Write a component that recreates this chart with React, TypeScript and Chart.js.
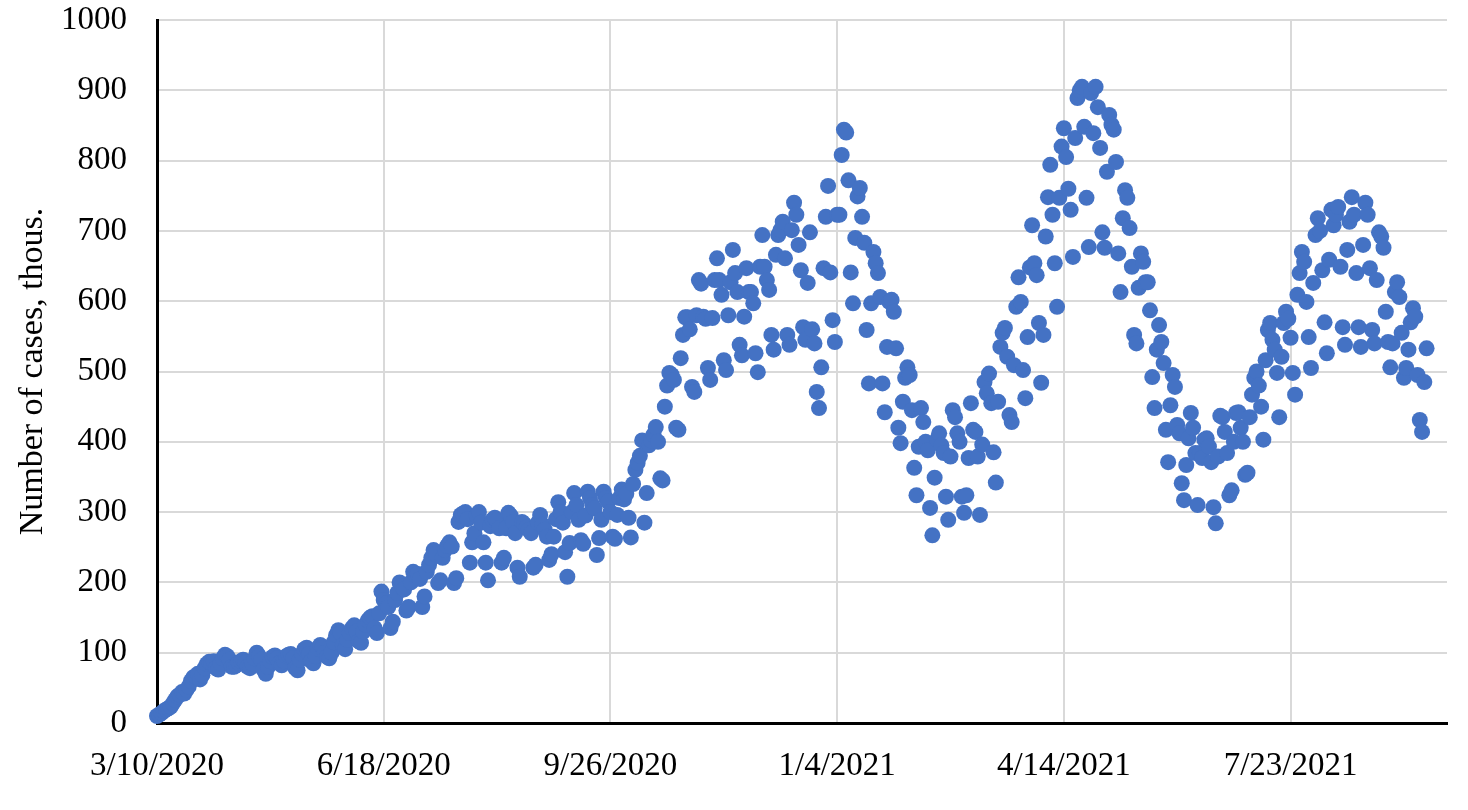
import { useEffect, useRef } from 'react';
import { Chart, registerables } from 'chart.js';

Chart.register(...registerables);

// X axis: day offsets from 3/10/2020 and their labels
const xTickDays = [0, 100, 200, 300, 400, 500];
const xTickLabels = ['3/10/2020', '6/18/2020', '9/26/2020', '1/4/2021', '4/14/2021', '7/23/2021'];
const xMaxDay = 569;

// Y axis
const yMin = 0;
const yMax = 1000;
const yStep = 100;

// Daily new cases (thousands), consecutive days starting 3/10/2020
const cases_2020_03_10 = [10, 12, 14, 17, 19, 21, 23, 28, 33, 38, 40, 44, 42, 47, 52, 60, 65, 66, 70, 62, 68, 78, 84, 87, 85, 88, 78, 76];
const cases_2020_04_07 = [85, 92, 97, 95, 90, 80, 80, 82, 86, 88, 90, 86, 80, 78, 85, 92, 100, 95, 90, 76, 70, 80, 88, 94, 96, 92, 85, 82];
const cases_2020_05_05 = [88, 95, 97, 98, 92, 78, 75, 90, 98, 105, 107, 98, 88, 85, 95, 106, 111, 108, 100, 94, 92, 100, 115, 125, 132, 128, 110, 105];
const cases_2020_06_02 = [118, 128, 135, 139, 130, 116, 114, 130, 140, 146, 150, 152, 135, 128, 156, 187, 175, 170, 165, 135, 144, 175, 185, 200, 195, 190, 160, 165];
const cases_2020_06_30 = [200, 215, 210, 212, 205, 165, 180, 215, 225, 235, 246, 240, 199, 203, 235, 246, 252, 257, 251, 199, 206, 286, 296, 298, 300, 290, 228, 257];
const cases_2020_07_28 = [270, 295, 300, 285, 257, 228, 203, 280, 289, 292, 288, 277, 228, 235, 277, 299, 295, 286, 270, 221, 208, 286, 283, 278, 275, 270, 221, 225];
const cases_2020_08_25 = [285, 296, 282, 275, 265, 232, 240, 265, 290, 314, 300, 285, 243, 208, 256, 300, 327, 310, 289, 260, 255, 295, 329, 320, 310, 305, 239, 263];
const cases_2020_09_22 = [289, 329, 320, 315, 300, 265, 262, 296, 320, 332, 318, 326, 292, 264, 340, 360, 370, 380, 402, 285, 327, 395, 402, 410, 421, 400, 348, 345];
const cases_2020_10_20 = [450, 480, 498, 495, 488, 420, 417, 519, 552, 577, 577, 560, 478, 471, 580, 630, 625, 578, 575, 505, 488, 576, 630, 661, 630, 609, 516, 502];
const cases_2020_11_17 = [580, 627, 673, 640, 613, 538, 523, 578, 647, 613, 613, 597, 526, 499, 649, 694, 649, 630, 616, 552, 531, 666, 694, 701, 713, 661, 552, 538];
const cases_2020_12_15 = [701, 740, 723, 680, 644, 563, 545, 626, 698, 560, 540, 471, 448, 506, 647, 720, 764, 641, 573, 542, 723, 723, 808, 844, 840, 772, 641, 597];
const cases_2021_01_12 = [690, 749, 761, 720, 683, 559, 483, 597, 670, 654, 640, 606, 483, 442, 535, 599, 602, 585, 533, 420, 398, 457, 491, 506, 495, 445, 363, 324];
const cases_2021_02_09 = [393, 448, 428, 400, 388, 306, 267, 349, 403, 412, 395, 384, 322, 289, 379, 445, 435, 412, 400, 322, 299, 324, 377, 455, 417, 414, 379, 296];
const cases_2021_03_09 = [396, 485, 469, 497, 455, 385, 342, 457, 535, 555, 562, 521, 438, 428, 509, 592, 634, 599, 502, 462, 549, 648, 708, 654, 637, 569, 484, 552];
const cases_2021_04_06 = [692, 748, 794, 723, 654, 592, 747, 820, 846, 805, 760, 730, 663, 832, 889, 900, 905, 848, 747, 677, 896, 839, 905, 876, 818, 698, 676, 784];
const cases_2021_05_04 = [865, 851, 844, 798, 668, 613, 718, 758, 747, 704, 649, 552, 540, 619, 668, 656, 627, 627, 587, 492, 448, 531, 566, 542, 512, 417, 371, 452];
const cases_2021_06_01 = [495, 478, 424, 412, 341, 317, 367, 405, 441, 420, 384, 310, 384, 377, 403, 405, 393, 371, 307, 284, 379, 437, 435, 414, 384, 324, 331, 400];
const cases_2021_06_29 = [441, 442, 420, 400, 353, 356, 435, 467, 491, 500, 480, 450, 403, 516, 559, 569, 545, 531, 498, 435, 521, 569, 585, 575, 548, 498, 467, 609];
const cases_2021_07_27 = [640, 670, 656, 599, 549, 505, 626, 694, 718, 700, 644, 570, 526, 659, 730, 708, 723, 734, 649, 563, 538, 673, 713, 748, 723, 640, 563, 535];
const cases_2021_08_24 = [680, 740, 723, 647, 559, 540, 630, 698, 692, 676, 585, 542, 506, 540, 613, 627, 606, 555, 491, 505, 531, 570, 590, 578, 495, 431, 414, 485, 533];

const dailyCases = [
  ...cases_2020_03_10, ...cases_2020_04_07, ...cases_2020_05_05, ...cases_2020_06_02,
  ...cases_2020_06_30, ...cases_2020_07_28, ...cases_2020_08_25, ...cases_2020_09_22,
  ...cases_2020_10_20, ...cases_2020_11_17, ...cases_2020_12_15, ...cases_2021_01_12,
  ...cases_2021_02_09, ...cases_2021_03_09, ...cases_2021_04_06, ...cases_2021_05_04,
  ...cases_2021_06_01, ...cases_2021_06_29, ...cases_2021_07_27, ...cases_2021_08_24,
];

const FONT = "'Liberation Serif', 'Times New Roman', serif";

export default function App() {
  const ref = useRef<HTMLCanvasElement | null>(null);

  useEffect(() => {
    if (!ref.current) return;
    const points = dailyCases.map((v, i) => ({ x: i, y: v }));
    const chart = new Chart(ref.current, {
      type: 'scatter',
      data: {
        datasets: [
          {
            data: points,
            backgroundColor: '#4472C4',
            borderColor: '#4472C4',
            borderWidth: 0,
            pointRadius: 8,
            pointHoverRadius: 8,
            clip: false as any,
          },
        ],
      },
      options: {
        animation: false,
        responsive: false,
        events: [],
        layout: { padding: { top: 20, right: 21, left: 0, bottom: 0 } },
        plugins: { legend: { display: false }, tooltip: { enabled: false } },
        scales: {
          x: {
            type: 'linear',
            min: 0,
            max: xMaxDay,
            afterBuildTicks: (s: any) => {
              s.ticks = xTickDays.map((v) => ({ value: v }));
            },
            afterFit: (s: any) => {
              s.height = 87;
              s.paddingLeft = 0;
              s.paddingRight = 0;
            },
            grid: { color: '#d9d9d9', lineWidth: 2, drawTicks: false },
            border: { color: '#000000', width: 3 },
            ticks: {
              padding: 24,
              color: '#000000',
              maxRotation: 0,
              autoSkip: false,
              font: { family: FONT, size: 33 },
              callback: (v: any) => {
                const i = xTickDays.indexOf(Number(v));
                return i >= 0 ? xTickLabels[i] : '';
              },
            },
          },
          y: {
            min: yMin,
            max: yMax,
            afterFit: (s: any) => {
              s.width = 157;
              s.paddingTop = 0;
              s.paddingBottom = 0;
            },
            grid: { color: '#d9d9d9', lineWidth: 2, drawTicks: false },
            border: { color: '#000000', width: 3 },
            ticks: {
              stepSize: yStep,
              padding: 30,
              color: '#000000',
              font: { family: FONT, size: 33 },
              callback: (v: any) => String(v),
            },
            title: {
              display: true,
              text: 'Number of cases, thous.',
              color: '#000000',
              font: { family: FONT, size: 34 },
              padding: { top: 13, bottom: 0 },
            },
          },
        },
      },
    });
    return () => chart.destroy();
  }, []);

  return (
    <div style={{ position: 'absolute', left: 0, top: 0, width: 1468, height: 810, background: '#fff' }}>
      <canvas ref={ref} width={1468} height={810} style={{ display: 'block', width: 1468, height: 810 }} />
    </div>
  );
}
